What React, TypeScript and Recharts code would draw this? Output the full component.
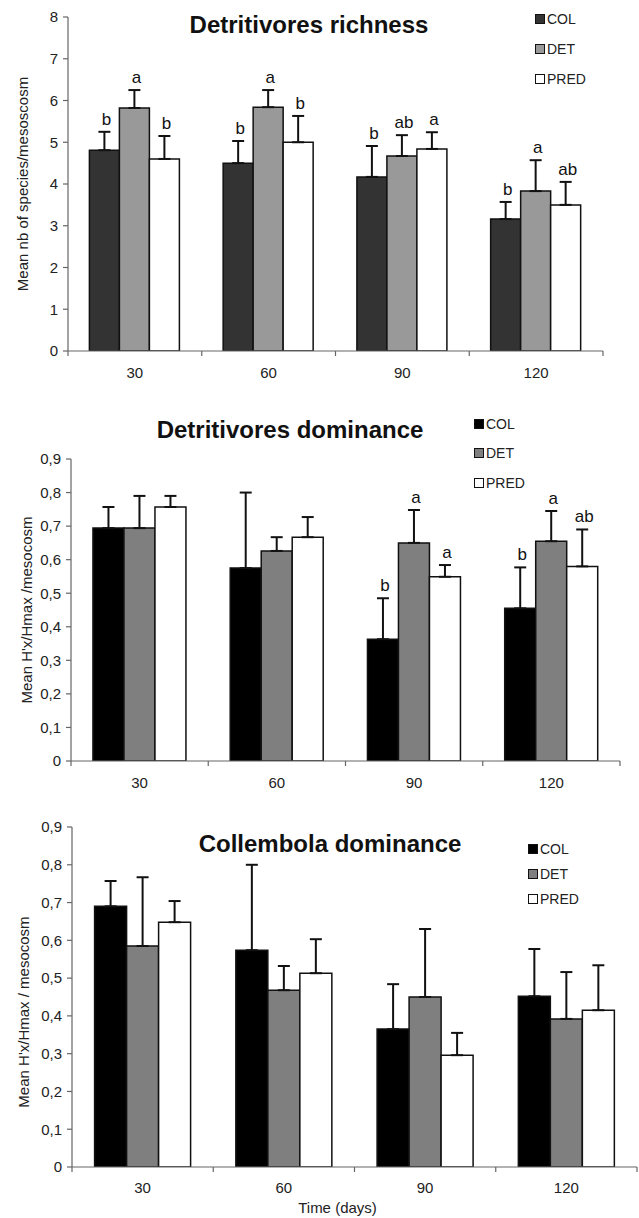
import { BarChart, Bar, XAxis, YAxis, ErrorBar, LabelList, Legend } from 'recharts';

const days = ['30', '60', '90', '120'];
const groups = ['COL', 'DET', 'PRED'];

// Detritivores richness
const richCol = [4.81, 4.5, 4.17, 3.16];
const richColErr = [0.44, 0.53, 0.74, 0.41];
const richDet = [5.82, 5.84, 4.67, 3.83];
const richDetErr = [0.43, 0.41, 0.5, 0.74];
const richPred = [4.6, 5.0, 4.84, 3.5];
const richPredErr = [0.55, 0.63, 0.4, 0.55];
const richColLetters = ['b', 'b', 'b', 'b'];
const richDetLetters = ['a', 'a', 'ab', 'a'];
const richPredLetters = ['b', 'b', 'a', 'ab'];
const richTicks = [0, 1, 2, 3, 4, 5, 6, 7, 8];

// Detritivores dominance
const detCol = [0.694, 0.575, 0.363, 0.455];
const detColErr = [0.063, 0.225, 0.122, 0.122];
const detDet = [0.694, 0.626, 0.65, 0.655];
const detDetErr = [0.096, 0.041, 0.098, 0.09];
const detPred = [0.757, 0.667, 0.549, 0.58];
const detPredErr = [0.033, 0.06, 0.035, 0.11];
const detColLetters = ['', '', 'b', 'b'];
const detDetLetters = ['', '', 'a', 'a'];
const detPredLetters = ['', '', 'a', 'ab'];

// Collembola dominance
const colCol = [0.69, 0.574, 0.365, 0.452];
const colColErr = [0.067, 0.226, 0.119, 0.125];
const colDet = [0.585, 0.468, 0.45, 0.392];
const colDetErr = [0.182, 0.064, 0.18, 0.124];
const colPred = [0.648, 0.513, 0.296, 0.415];
const colPredErr = [0.056, 0.09, 0.059, 0.119];

const domTicks = [0, 0.1, 0.2, 0.3, 0.4, 0.5, 0.6, 0.7, 0.8, 0.9];

const FONT = '"Liberation Sans", Arial, sans-serif';

type Series = { vals: number[]; errs: number[]; letters?: string[] };

function buildRows(col: Series, det: Series, pred: Series) {
  return days.map((d, i) => ({
    day: d,
    COL: col.vals[i],
    DET: det.vals[i],
    PRED: pred.vals[i],
    colErr: [0, col.errs[i]],
    detErr: [0, det.errs[i]],
    predErr: [0, pred.errs[i]],
    colLetter: col.letters ? col.letters[i] : '',
    detLetter: det.letters ? det.letters[i] : '',
    predLetter: pred.letters ? pred.letters[i] : '',
  }));
}

// letters sit just above the error bar cap
const letterContent = (s: Series) => (props: any) => {
  const { x, y, width, height, index, value } = props;
  if (!value) return null;
  const top = y - (s.errs[index] * height) / s.vals[index];
  return (
    <text x={x + width / 2 + 2} y={top - 7} textAnchor="middle" fontSize={17} fill="#111" fontFamily={FONT}>
      {value}
    </text>
  );
};

// category labels in the middle, small ticks on the category borders
const makeTick = (band: number, baseline: number) => (props: any) => {
  const { x, y, payload, index } = props;
  const half = payload && payload.offset ? payload.offset : band / 2;
  return (
    <g>
      <line x1={x - half} y1={y} x2={x - half} y2={y + 5} stroke="#666" strokeWidth={1.2} />
      {index === days.length - 1 && (
        <line x1={x + half} y1={y} x2={x + half} y2={y + 5} stroke="#666" strokeWidth={1.2} />
      )}
      <text x={x} y={y + baseline} textAnchor="middle" fontSize={15} fill="#222" fontFamily={FONT}>
        {payload.value}
      </text>
    </g>
  );
};

function LegendBox({ payload, rowH }: any) {
  return (
    <div style={{ fontFamily: FONT, fontSize: 14, color: '#222' }}>
      {(payload || []).map((p: any) => (
        <div key={p.value} style={{ height: rowH, display: 'flex', alignItems: 'center' }}>
          <span
            style={{
              display: 'inline-block',
              width: 8,
              height: 8,
              background: p.color,
              border: '1.5px solid #111',
              marginRight: 2,
            }}
          />
          {p.value}
        </div>
      ))}
    </div>
  );
}

type PanelProps = {
  top: number;
  height: number;
  title: string;
  titleX: number;
  titleTop: number;
  titleSize: number;
  yLabel: string;
  yLabelX: number;
  yLabelDy: number;
  margin: { top: number; right: number; bottom: number; left: number };
  ticks: number[];
  domain: [number, number];
  comma: boolean;
  colors: string[];
  col: Series;
  det: Series;
  pred: Series;
  legend: { left: number; top: number; rowH: number };
  tickBaseline: number;
  xLabel?: string;
};

function Panel(p: PanelProps) {
  const rows = buildRows(p.col, p.det, p.pred);
  const width = 639;
  const yAxisW = 50;
  const plotW = width - p.margin.left - yAxisW - p.margin.right;
  const band = plotW / days.length;
  const xAxisH = p.xLabel ? 50 : 30;
  return (
    <div style={{ position: 'absolute', left: 0, top: p.top, width, height: p.height }}>
      <BarChart
        width={width}
        height={p.height}
        data={rows}
        margin={p.margin}
        barCategoryGap="16%"
        barGap={0}
      >
        <XAxis
          dataKey="day"
          axisLine={{ stroke: '#666', strokeWidth: 1.2 }}
          tickLine={false}
          tickSize={0}
          tickMargin={0}
          height={xAxisH}
          interval={0}
          tick={makeTick(band, p.tickBaseline)}
          label={
            p.xLabel
              ? {
                  content: (lp: any) => {
                    const vb = lp.viewBox || {};
                    return (
                      <text
                        x={vb.x + vb.width / 2 - 17}
                        y={vb.y + 46}
                        textAnchor="middle"
                        fontSize={15}
                        fill="#222"
                        fontFamily={FONT}
                      >
                        {p.xLabel}
                      </text>
                    );
                  },
                }
              : undefined
          }
        />
        <YAxis
          width={yAxisW}
          domain={p.domain}
          ticks={p.ticks}
          interval={0}
          allowDataOverflow
          axisLine={{ stroke: '#666', strokeWidth: 1.2 }}
          tickLine={{ stroke: '#666', strokeWidth: 1.2 }}
          tickSize={5}
          tickMargin={5}
          tick={{ fontSize: 15, fill: '#222', fontFamily: FONT }}
          tickFormatter={(v: number) => (p.comma ? String(Math.round(v * 10) / 10).replace('.', ',') : String(v))}
          label={{
            content: (lp: any) => {
              const vb = lp.viewBox || {};
              const cy = vb.y + vb.height / 2 + p.yLabelDy;
              return (
                <text
                  x={p.yLabelX}
                  y={cy}
                  transform={`rotate(-90 ${p.yLabelX} ${cy})`}
                  textAnchor="middle"
                  dominantBaseline="central"
                  fontSize={15}
                  fill="#222"
                  fontFamily={FONT}
                >
                  {p.yLabel}
                </text>
              );
            },
          }}
        />
        <Legend
          layout="vertical"
          align="center"
          verticalAlign="middle"
          wrapperStyle={{ left: p.legend.left, top: p.legend.top, width: 'auto', height: 'auto' }}
          content={(lp: any) => <LegendBox payload={lp.payload} rowH={p.legend.rowH} />}
        />
        <Bar dataKey="COL" name={groups[0]} fill={p.colors[0]} stroke="#111" strokeWidth={1.5} isAnimationActive={false}>
          <ErrorBar dataKey="colErr" width={6} stroke="#111" strokeWidth={2} direction="y" />
          <LabelList dataKey="colLetter" content={letterContent(p.col)} />
        </Bar>
        <Bar dataKey="DET" name={groups[1]} fill={p.colors[1]} stroke="#111" strokeWidth={1.5} isAnimationActive={false}>
          <ErrorBar dataKey="detErr" width={6} stroke="#111" strokeWidth={2} direction="y" />
          <LabelList dataKey="detLetter" content={letterContent(p.det)} />
        </Bar>
        <Bar dataKey="PRED" name={groups[2]} fill={p.colors[2]} stroke="#111" strokeWidth={1.5} isAnimationActive={false}>
          <ErrorBar dataKey="predErr" width={6} stroke="#111" strokeWidth={2} direction="y" />
          <LabelList dataKey="predLetter" content={letterContent(p.pred)} />
        </Bar>
      </BarChart>
      <div
        style={{
          position: 'absolute',
          left: p.titleX - 200,
          width: 400,
          top: p.titleTop,
          textAlign: 'center',
          fontFamily: FONT,
          fontWeight: 'bold',
          fontSize: p.titleSize,
          lineHeight: `${p.titleSize}px`,
          color: '#111',
          pointerEvents: 'none',
        }}
      >
        {p.title}
      </div>
    </div>
  );
}

export default function App() {
  return (
    <div style={{ position: 'absolute', left: 0, top: 0, width: 639, height: 1218, background: '#fff' }}>
      <Panel
        top={0}
        height={390}
        title="Detritivores richness"
        titleX={309}
        titleTop={13}
        titleSize={24}
        yLabel="Mean nb of species/mesoscosm"
        yLabelX={22}
        yLabelDy={0}
        margin={{ top: 17, right: 36, bottom: 9, left: 18 }}
        ticks={richTicks}
        domain={[0, 8]}
        comma={false}
        colors={['#333333', '#999999', '#ffffff']}
        col={{ vals: richCol, errs: richColErr, letters: richColLetters }}
        det={{ vals: richDet, errs: richDetErr, letters: richDetLetters }}
        pred={{ vals: richPred, errs: richPredErr, letters: richPredLetters }}
        legend={{ left: 535, top: 4, rowH: 30 }}
        tickBaseline={27}
      />
      <Panel
        top={400}
        height={400}
        title="Detritivores dominance"
        titleX={290}
        titleTop={18}
        titleSize={24}
        yLabel="Mean H'x/Hmax /mesocosm"
        yLabelX={26}
        yLabelDy={0}
        margin={{ top: 59, right: 19, bottom: 9, left: 21 }}
        ticks={domTicks}
        domain={[0, 0.9]}
        comma
        colors={['#000000', '#7f7f7f', '#ffffff']}
        col={{ vals: detCol, errs: detColErr, letters: detColLetters }}
        det={{ vals: detDet, errs: detDetErr, letters: detDetLetters }}
        pred={{ vals: detPred, errs: detPredErr, letters: detPredLetters }}
        legend={{ left: 474, top: 9, rowH: 29.5 }}
        tickBaseline={27}
      />
      <Panel
        top={800}
        height={418}
        title="Collembola dominance"
        titleX={330}
        titleTop={32}
        titleSize={24}
        yLabel="Mean H'x/Hmax / mesocosm"
        yLabelX={23}
        yLabelDy={15}
        margin={{ top: 27, right: 2, bottom: 1, left: 22 }}
        ticks={domTicks}
        domain={[0, 0.9]}
        comma
        colors={['#000000', '#7f7f7f', '#ffffff']}
        col={{ vals: colCol, errs: colColErr }}
        det={{ vals: colDet, errs: colDetErr }}
        pred={{ vals: colPred, errs: colPredErr }}
        legend={{ left: 528, top: 36.5, rowH: 25 }}
        tickBaseline={26}
        xLabel="Time (days)"
      />
    </div>
  );
}
